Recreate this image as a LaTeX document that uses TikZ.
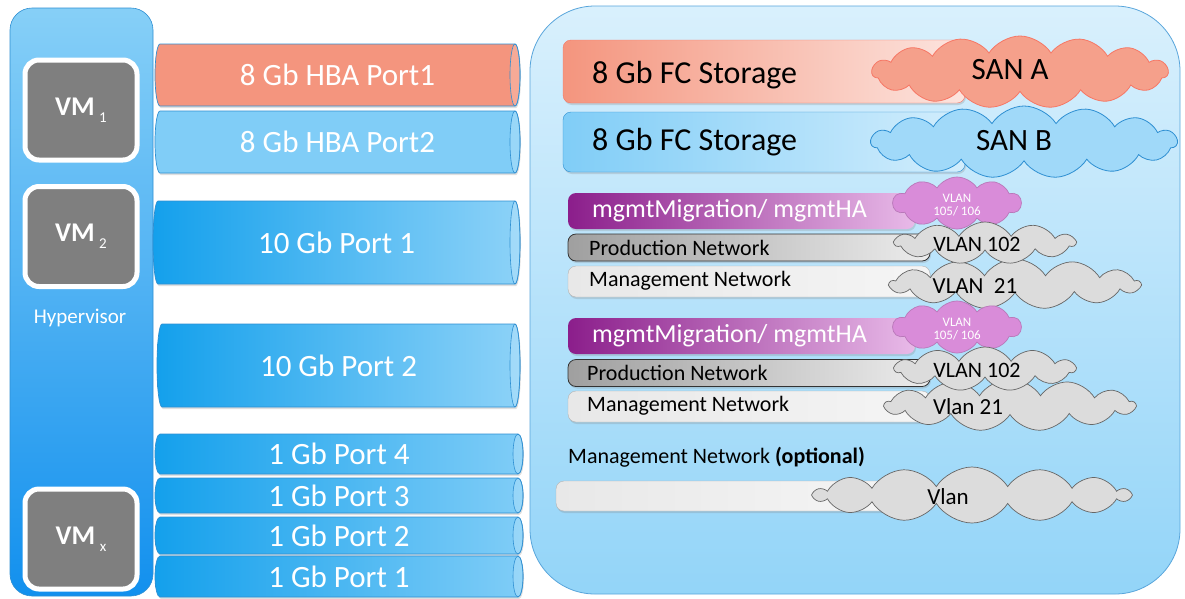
\documentclass[tikz,border=0pt]{standalone}
\usepackage{fontspec}
\setmainfont{Carlito}
\usetikzlibrary{shapes.geometric,shapes.symbols,shadows}
\definecolor{portline}{HTML}{2E8FD2}
\definecolor{salmon}{HTML}{F4957E}
\definecolor{lblue}{HTML}{80CDF7}
\definecolor{dblue}{HTML}{14A0EC}
\definecolor{vmgray}{HTML}{7F7F7F}
\definecolor{purp}{HTML}{8B1E8B}
\definecolor{cpink}{HTML}{D98CD9}
\definecolor{cgray}{HTML}{DCDCDC}
\newcommand{\fsz}[1]{\fontsize{#1}{#1}\selectfont}
\newcommand{\vmsub}[1]{VM\,\raisebox{-0.55ex}{\fontsize{15}{15}\selectfont\mdseries #1}}
% manual cylinder: #1 name, #2 x0, #3 x1, #4 ym, #5 h, #6 fill options, #7 text
\newcommand{\cyl}[7]{%
  \pgfmathsetmacro\hh{#5/2}%
  \path[#6, draw=portline, line width=0.7pt, shd]
    (#3,#4-\hh) -- (#2,#4-\hh)
    arc[start angle=270, end angle=90, x radius=5, y radius=\hh]
    -- (#3,#4+\hh)
    arc[start angle=90, end angle=-90, x radius=5, y radius=\hh] -- cycle;
  \draw[portline, line width=0.6pt, fill=white, fill opacity=0.2] (#3,#4) ellipse[x radius=5, y radius=\hh];
  \node[text=white, font=\fsz{31}, inner sep=0pt] (#1) at ({(#2+#3)/2},#4) {#7};
}
\tikzset{
  shd/.style={drop shadow={opacity=0.25,shadow xshift=1pt,shadow yshift=-2pt}},
  vmbox/.style={draw=white, line width=5pt, fill=vmgray, rounded corners=14pt,
    minimum width=112, minimum height=100, text=white, font=\fsz{27}\bfseries},
  bar/.style={rounded corners=8pt, inner sep=0pt, shd},
  sancloud/.style={cloud, cloud puffs=15, cloud puff arc=115, cloud ignores aspect,
    inner sep=0pt, line width=0.8pt},
  vcloud/.style={cloud, cloud puffs=13, cloud puff arc=115, cloud ignores aspect,
    inner sep=0pt, line width=0.7pt, draw=gray!80!black, fill=cgray},
  lbl/.style={anchor=west, inner sep=0pt, text=black},
}
\begin{document}
\begin{tikzpicture}[x=1pt,y=-1pt]
\useasboundingbox (0,0) rectangle (1185,598);
% hypervisor panel
\node[draw=portline, line width=0.6pt, rounded corners=22pt, top color=lblue!95!white,
  bottom color=dblue!90!blue, minimum width=143, minimum height=588] (hyp) at (81.5,302) {};
\node[vmbox] (vm1) at (81,110) {\vmsub{1}};
\node[vmbox] (vm2) at (81,236.5) {\vmsub{2}};
\node[text=white, font=\fsz{21}] (hyptext) at (80,318) {Hypervisor};
\node[vmbox] (vmx) at (81,539) {\vmsub{x}};
% ports
\cyl{hba1}{160}{515}{75}{62}{fill=salmon}{8 Gb HBA Port1}
\cyl{hba2}{160}{515}{142}{62}{fill=lblue}{8 Gb HBA Port2}
\cyl{p10a}{158}{515}{242.5}{83}{left color=dblue, right color=lblue!90!white}{10 Gb Port 1}
\cyl{p10b}{162}{515}{365.5}{83}{left color=dblue, right color=lblue!90!white}{10 Gb Port 2}
\cyl{g4}{160}{518}{454}{40}{left color=dblue, right color=lblue}{1 Gb Port 4}
\cyl{g3}{160}{518}{495.5}{35}{left color=dblue, right color=lblue}{1 Gb Port 3}
\cyl{g2}{160}{518}{535.5}{37}{left color=dblue, right color=lblue}{1 Gb Port 2}
\cyl{g1}{160}{518}{576.5}{41}{left color=dblue, right color=lblue}{1 Gb Port 1}
% right panel
\node[draw=portline!80!white, line width=0.8pt, rounded corners=65pt, top color=lblue!30!white,
  bottom color=lblue!85!white, minimum width=650, minimum height=588] (net) at (855,300) {};
% FC storage
\node[bar, draw=salmon!80!red, left color=salmon, right color=salmon!25!white, minimum width=402, minimum height=63] (fca) at (764,71.5) {};
\node[lbl, font=\fsz{32}] (fcat) at (592,75) {8 Gb FC Storage};
\node[sancloud, draw=salmon!80!red, fill=salmon!90!white, minimum width=296, minimum height=72] (sana) at (1020,72) {};
\node[font=\fsz{31}] (sanat) at (1010,70) {SAN A};
\node[bar, draw=portline, left color=lblue, right color=lblue!35!white, minimum width=402, minimum height=60] (fcb) at (764,142) {};
\node[lbl, font=\fsz{32}] (fcbt) at (592,142) {8 Gb FC Storage};
\node[sancloud, draw=portline, fill=lblue!75!white, minimum width=306, minimum height=72] (sanb) at (1024,142) {};
\node[font=\fsz{31}] (sanbt) at (1014,141) {SAN B};
% first network set
\node[bar, left color=purp, right color=cpink!60!white, minimum width=347, minimum height=36] (mg1) at (741.5,211) {};
\node[lbl, text=white, font=\fsz{26}] (mg1t) at (592,211) {mgmtMigration/ mgmtHA};
\node[bar, draw=black!80, line width=0.8pt, left color=gray!75, right color=gray!15, minimum width=362, minimum height=27] (pr1) at (749,247.5) {};
\node[lbl, font=\fsz{22}] (pr1t) at (589,247.5) {Production Network};
\node[bar, draw=gray!60, left color=gray!18, right color=gray!8, minimum width=362, minimum height=31] (mn1) at (749,281.5) {};
\node[lbl, font=\fsz{22}] (mn1t) at (589,281) {Management Network};
\node[vcloud, draw=purp!60!white, fill=cpink, minimum width=128, minimum height=52, cloud puffs=10] (v1a) at (957,203) {};
\node[align=center, text=white, font=\fsz{13}] (v1at) at (957,205) {VLAN\\105/ 106};
\node[vcloud, minimum width=250, minimum height=50] (v1c) at (1015,284) {};
\node[font=\fsz{23}] (v1ct) at (975,286) {VLAN\ \ 21};
\node[vcloud, minimum width=180, minimum height=42, cloud puffs=11] (v1b) at (985,243) {};
\node[font=\fsz{22}] (v1bt) at (977,244) {VLAN 102};
% second network set
\node[bar, left color=purp, right color=cpink!60!white, minimum width=347, minimum height=36] (mg2) at (741.5,336) {};
\node[lbl, text=white, font=\fsz{26}] (mg2t) at (592,336) {mgmtMigration/ mgmtHA};
\node[bar, draw=black!80, line width=0.8pt, left color=gray!75, right color=gray!15, minimum width=362, minimum height=27] (pr2) at (749,373) {};
\node[lbl, font=\fsz{22}] (pr2t) at (587,373) {Production Network};
\node[bar, draw=gray!60, left color=gray!18, right color=gray!8, minimum width=362, minimum height=31] (mn2) at (749,406.5) {};
\node[lbl, font=\fsz{22}] (mn2t) at (587,406) {Management Network};
\node[vcloud, draw=purp!60!white, fill=cpink, minimum width=128, minimum height=52, cloud puffs=10] (v2a) at (957,327) {};
\node[align=center, text=white, font=\fsz{13}] (v2at) at (957,329) {VLAN\\105/ 106};
\node[vcloud, minimum width=250, minimum height=52] (v2c) at (1010,405) {};
\node[font=\fsz{23}] (v2ct) at (968,407) {Vlan 21};
\node[vcloud, minimum width=180, minimum height=44, cloud puffs=11] (v2b) at (985,369) {};
\node[font=\fsz{22}] (v2bt) at (977,370) {VLAN 102};
% optional
\node[lbl, font=\fsz{22}] (optt) at (568,457) {Management Network \textbf{(optional)}};
\node[bar, draw=gray!60, left color=gray!18, right color=gray!8, minimum width=339, minimum height=30] (opt) at (725.5,496) {};
\node[vcloud, minimum width=315, minimum height=56, cloud puffs=14] (vo) at (972,495) {};
\node[font=\fsz{23}] (vot) at (948,497) {Vlan};
\end{tikzpicture}
\end{document}
